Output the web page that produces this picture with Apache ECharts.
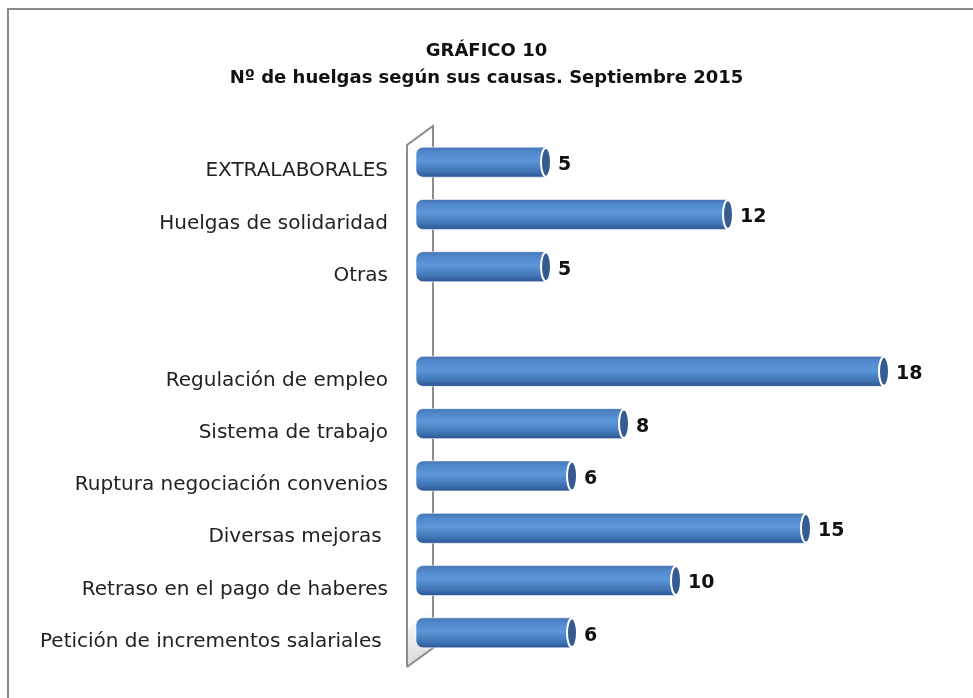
<!DOCTYPE html>
<html>
<head>
<meta charset="utf-8">
<title>Huelgas según sus causas</title>
<script src="https://cdn.jsdelivr.net/npm/echarts@6/dist/echarts.min.js"></script>
<style>
  html, body { margin: 0; padding: 0; background: #fff; }
  #main { width: 973px; height: 698px; }
</style>
</head>
<body>
<div id="main"></div>
<script>
// categorias de abajo hacia arriba (el eje de categorias empieza abajo)
var causas = [
  'Petición de incrementos salariales ',
  'Retraso en el pago de haberes',
  'Diversas mejoras ',
  'Ruptura negociación convenios',
  'Sistema de trabajo',
  'Regulación de empleo',
  '',
  'Otras',
  'Huelgas de solidaridad',
  'EXTRALABORALES'
];
var huelgas = [6, 10, 15, 6, 8, 18, null, 5, 12, 5];

var chart = echarts.init(document.getElementById('main'));

var FONT = 'DejaVu Sans';

// cilindro: cuerpo con degradado + tapa eliptica a la derecha + etiqueta
function renderCylinder(params, api) {
  var v = api.value(0);
  if (v == null || isNaN(v)) return;
  var start = api.coord([0, api.value(1)]);
  var end = api.coord([v, api.value(1)]);
  var h = 30;
  var cy = start[1];
  var body = {
    type: 'rect',
    shape: { x: start[0], y: cy - h / 2, width: end[0] - start[0], height: h, r: [7, 0, 0, 7] },
    style: {
      fill: new echarts.graphic.LinearGradient(0, 0, 0, 1, [
        { offset: 0, color: '#4471ad' },
        { offset: 0.15, color: '#4f86c9' },
        { offset: 0.45, color: '#5c97da' },
        { offset: 0.8, color: '#4074b4' },
        { offset: 1, color: '#2b5290' }
      ]),
      stroke: 'rgba(255,255,255,0.6)',
      lineWidth: 1
    }
  };
  var cap = {
    type: 'ellipse',
    shape: { cx: end[0], cy: cy, rx: 5, ry: h / 2 - 0.5 },
    style: { fill: '#355b90', stroke: '#fff', lineWidth: 2 }
  };
  var label = {
    type: 'text',
    style: {
      x: end[0] + 12,
      y: cy + 3,
      text: String(v),
      fill: '#111',
      font: 'bold 19px ' + FONT,
      verticalAlign: 'middle',
      align: 'left'
    }
  };
  return { type: 'group', children: [body, cap, label] };
}

var gridLeft = 416, gridTop = 136, gridBottom = 39, gridRight = 37;
var wallBottom = 698 - gridBottom;

chart.setOption({
  backgroundColor: '#fff',
  animation: false,
  title: {
    text: 'GRÁFICO 10\nNº de huelgas según sus causas. Septiembre 2015',
    left: 'center',
    top: 33,
    textStyle: {
      fontFamily: FONT,
      fontSize: 18,
      fontWeight: 'bold',
      color: '#111',
      lineHeight: 27,
      align: 'center'
    }
  },
  grid: { left: gridLeft, right: gridRight, top: gridTop, bottom: gridBottom, containLabel: false },
  xAxis: {
    type: 'value',
    min: 0,
    max: 20,
    show: false
  },
  yAxis: {
    type: 'category',
    data: causas,
    axisLine: { show: false },
    axisTick: { show: false },
    axisLabel: {
      margin: 28,
      fontFamily: FONT,
      fontSize: 20,
      color: '#222',
      verticalAlign: 'top',
      lineHeight: 18
    }
  },
  graphic: [
    // marco del grafico (solo arriba e izquierda)
    {
      type: 'polyline',
      shape: { points: [[8, 698], [8, 9], [973, 9]] },
      style: { stroke: '#8a8a8a', lineWidth: 2, fill: null },
      silent: true
    },
    // pared 3D del eje
    {
      type: 'polygon',
      shape: { points: [[gridLeft - 9, wallBottom - 30], [gridLeft + 17, wallBottom - 50], [gridLeft + 17, wallBottom - 11], [gridLeft - 9, wallBottom + 8]] },
      style: {
        fill: new echarts.graphic.LinearGradient(0, 0, 0, 1, [
          { offset: 0, color: 'rgba(200,200,200,0)' },
          { offset: 1, color: 'rgba(190,190,190,0.6)' }
        ])
      },
      silent: true,
      z: 1
    },
    {
      type: 'polyline',
      shape: { points: [[gridLeft - 9, wallBottom + 8], [gridLeft - 9, gridTop + 9], [gridLeft + 17, gridTop - 10], [gridLeft + 17, wallBottom - 11], [gridLeft - 9, wallBottom + 8]] },
      style: { stroke: '#8c8c8c', lineWidth: 2, fill: null },
      silent: true,
      z: 1
    }
  ],
  series: [
    {
      type: 'custom',
      renderItem: renderCylinder,
      encode: { x: 0, y: 1 },
      z: 5,
      data: huelgas.map(function (v, i) { return [v, i]; })
    }
  ]
});
</script>
</body>
</html>
